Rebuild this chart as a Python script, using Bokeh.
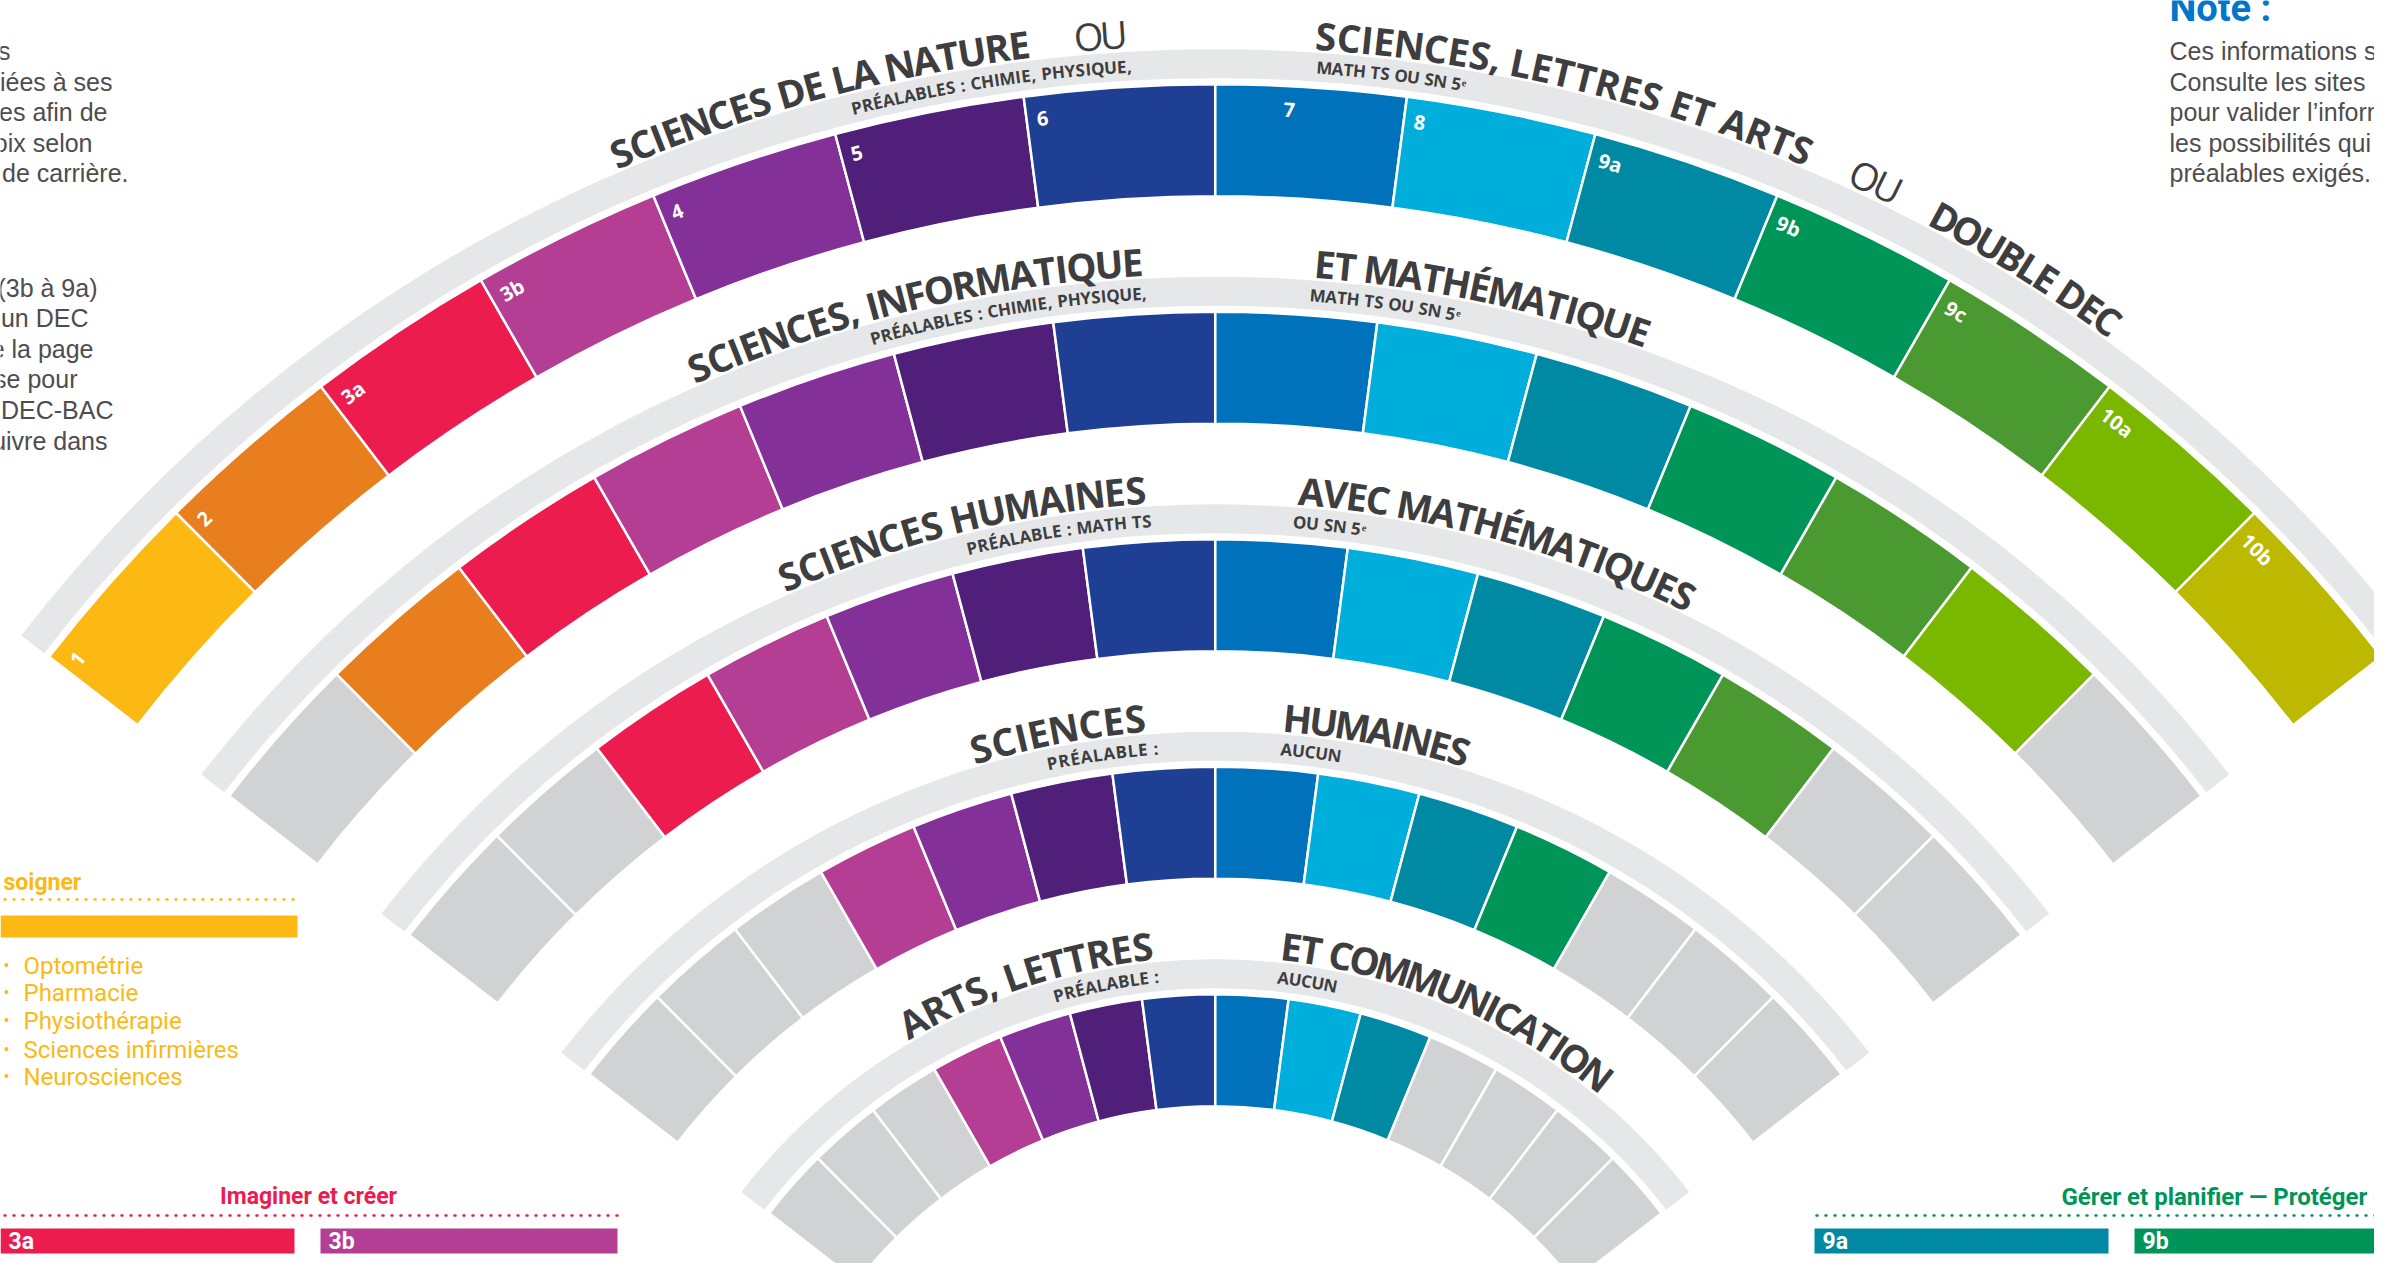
import math
from bokeh.plotting import figure
from bokeh.models import Range1d, ColumnDataSource
from bokeh.core.properties import value
from bokeh.embed import file_html
from bokeh.resources import INLINE

# ---------------- data ----------------
codes = ["1", "2", "3a", "3b", "4", "5", "6", "7", "8", "9a", "9b", "9c", "10a", "10b"]
code_colors = ["#FDB913", "#E87E1E", "#EC1C4F", "#B43E93", "#833199", "#4F1F79", "#1E3F94",
               "#0072BC", "#00AEDB", "#0089A3", "#009558", "#4A9A31", "#7AB800", "#BDB800"]
# first / last program code reachable from each DEC (outer ring -> inner ring)
ring_first = ["1", "2", "3a", "3b", "3b"]
ring_last = ["10b", "10a", "9c", "9b", "9a"]
ring_left_titles = ["SCIENCES DE LA NATURE", "SCIENCES, INFORMATIQUE", "SCIENCES HUMAINES",
                    "SCIENCES", "ARTS, LETTRES"]
ring_right_titles = ["SCIENCES, LETTRES ET ARTS", "ET MATHÉMATIQUE", "AVEC MATHÉMATIQUES",
                     "HUMAINES", "ET COMMUNICATION"]
ring_left_subs = ["PRÉALABLES : CHIMIE, PHYSIQUE,", "PRÉALABLES : CHIMIE, PHYSIQUE,",
                  "PRÉALABLE : MATH TS", "PRÉALABLE :", "PRÉALABLE :"]
ring_right_subs = ["MATH TS OU SN 5ᵉ", "MATH TS OU SN 5ᵉ", "OU SN 5ᵉ", "AUCUN", "AUCUN"]
outer_extra = ["OU", "OU", "DOUBLE DEC"]

left_par1 = ["s", "iées à ses", "es afin de", "oix selon", "de carrière."]
left_par2 = ["(3b à 9a)", "un DEC", "e la page", "se pour", "DEC-BAC", "uivre dans"]
note_title = "Note :"
note_lines = ["Ces informations so", "Consulte les sites In", "pour valider l’inform",
              "les possibilités qui s", "préalables exigés."]
care_header = "soigner"
care_code = "1"
care_items = ["Optométrie", "Pharmacie", "Physiothérapie", "Sciences infirmières", "Neurosciences"]
create_header = "Imaginer et créer"
create_codes = ["3a", "3b"]
manage_header = "Gérer et planifier  —  Protéger et"
manage_codes = ["9a", "9b"]

# ---------------- layout ----------------
W, H = 2374, 1263


def Y(ys):
    return H - ys


CX, CY = 1214.8, Y(1557.7)
A_L, A_R = 142.3, 37.7
NSEG = len(codes)
STEP = (A_L - A_R) / NSEG
R_IN0, R_STEP, SEG_W, BAND_GAP, BAND_W = 1362.0, 227.5, 112.0, 6.0, 29.0
GRAY, BAND, DARK = "#D1D2D4", "#E6E7E8", "#3E3E40"
TITLE_PX, SUB_PX, OU_PX = 38, 17, 38

p = figure(width=W, height=H, x_range=Range1d(0, W), y_range=Range1d(0, H),
           output_backend="svg", toolbar_location=None, min_border=0)
p.axis.visible = False
p.grid.visible = False
p.outline_line_color = None
p.background_fill_color = "white"

# wedges
wd = dict(x=[], y=[], ri=[], ro=[], a0=[], a1=[], c=[])
bd = dict(x=[], y=[], ri=[], ro=[], a0=[], a1=[])
for k in range(5):
    rin = R_IN0 - k * R_STEP
    i0, i1 = codes.index(ring_first[k]), codes.index(ring_last[k])
    for i in range(NSEG):
        wd["x"].append(CX); wd["y"].append(CY)
        wd["ri"].append(rin); wd["ro"].append(rin + SEG_W)
        wd["a0"].append(math.radians(A_L - STEP * (i + 1)))
        wd["a1"].append(math.radians(A_L - STEP * i))
        wd["c"].append(code_colors[i] if i0 <= i <= i1 else GRAY)
    bd["x"].append(CX); bd["y"].append(CY)
    bd["ri"].append(rin + SEG_W + BAND_GAP); bd["ro"].append(rin + SEG_W + BAND_GAP + BAND_W)
    bd["a0"].append(math.radians(A_R)); bd["a1"].append(math.radians(A_L))

p.annular_wedge(x="x", y="y", inner_radius="ri", outer_radius="ro", start_angle="a0",
                end_angle="a1", fill_color=BAND, line_color=None, source=ColumnDataSource(bd))
p.annular_wedge(x="x", y="y", inner_radius="ri", outer_radius="ro", start_angle="a0",
                end_angle="a1", fill_color="c", line_color="white", line_width=2.5,
                source=ColumnDataSource(wd))

# character widths (em) for placing letters along arcs
CW = {'A': .70, 'B': .68, 'C': .64, 'D': .73, 'E': .57, 'F': .55, 'G': .72, 'H': .76, 'I': .33,
      'J': .33, 'K': .67, 'L': .56, 'M': .93, 'N': .78, 'O': .78, 'P': .65, 'Q': .78, 'R': .67,
      'S': .58, 'T': .59, 'U': .75, 'V': .65, 'W': .97, 'X': .65, 'Y': .62, 'Z': .58, 'É': .57,
      ' ': .26, ',': .28, ':': .28, '.': .28, '5': .57, 'ᵉ': .35}


def arc_chars(s, r, a0, a1, track=0.0):
    ws = [CW.get(c, .55) + track for c in s]
    tot = sum(ws)
    out = dict(x=[], y=[], t=[], a=[])
    cum = 0.0
    for c, w in zip(s, ws):
        f = (cum + w / 2) / tot
        cum += w
        if c == " ":
            continue
        th = math.radians(a0 + (a1 - a0) * f)
        out["x"].append(CX + r * math.cos(th))
        out["y"].append(CY + r * math.sin(th))
        out["t"].append(c)
        out["a"].append(th - math.pi / 2)
    return out


def merge(dst, src):
    for key in dst:
        dst[key] += src[key]


title_spans_l = [(113.3, 97.0), (113.9, 93.2), (114.0, 93.7), (106.9, 94.7), (120.6, 95.8)]
title_spans_r = [(86.25, 67.0), (85.6, 70.5), (85.5, 63.5), (85.3, 72.5), (83.8, 50.5)]
sub_spans_l = [(104.1, 93.2), (105.8, 93.1), (103.85, 93.5), (102.0, 94.0), (106.1, 95.5)]
sub_spans_r = [(86.1, 80.3), (85.7, 78.8), (85.7, 81.6), (85.4, 81.1), (83.9, 78.0)]

tb = dict(x=[], y=[], t=[], a=[])
sb = dict(x=[], y=[], t=[], a=[])
for k in range(5):
    rin = R_IN0 - k * R_STEP
    band_out = rin + SEG_W + BAND_GAP + BAND_W
    r_title = band_out + 4 + 0.36 * TITLE_PX          # centre of capitals
    r_sub = rin + SEG_W + BAND_GAP + BAND_W / 2        # centre of band
    merge(tb, arc_chars(ring_left_titles[k], r_title, *title_spans_l[k]))
    merge(tb, arc_chars(ring_right_titles[k], r_title, *title_spans_r[k]))
    merge(sb, arc_chars(ring_left_subs[k], r_sub, *sub_spans_l[k], track=0.06))
    merge(sb, arc_chars(ring_right_subs[k], r_sub, *sub_spans_r[k], track=0.06))

band_out0 = R_IN0 + SEG_W + BAND_GAP + BAND_W
merge(tb, arc_chars(outer_extra[2], band_out0 + 4 + 0.36 * TITLE_PX, 61.9, 53.8))
ob = dict(x=[], y=[], t=[], a=[])
r_ou = band_out0 + 5 + 0.36 * OU_PX
merge(ob, arc_chars(outer_extra[0], r_ou, 95.25, 93.35))
merge(ob, arc_chars(outer_extra[1], r_ou, 65.3, 63.4))

p.text(x="x", y="y", text="t", angle="a", source=ColumnDataSource(tb),
       text_font=value("Open Sans"), text_font_style="bold", text_font_size=f"{TITLE_PX}px",
       text_color=DARK, text_align="center", text_baseline="middle")
p.text(x="x", y="y", text="t", angle="a", source=ColumnDataSource(ob),
       text_font=value("Open Sans"), text_font_style="normal", text_font_size=f"{OU_PX}px",
       text_color=DARK, text_align="center", text_baseline="middle")
p.text(x="x", y="y", text="t", angle="a", source=ColumnDataSource(sb),
       text_font=value("Open Sans"), text_font_style="bold", text_font_size=f"{SUB_PX}px",
       text_color=DARK, text_align="center", text_baseline="middle")

# segment numbers on the outer ring
lb = dict(x=[], y=[], t=[], a=[])
r_lab = R_IN0 + SEG_W - 24
for i, c in enumerate(codes):
    off = 2.7 if c == "7" else 0.4
    th = math.radians(A_L - STEP * i - off)
    lb["x"].append(CX + r_lab * math.cos(th))
    lb["y"].append(CY + r_lab * math.sin(th))
    lb["t"].append(c)
    lb["a"].append(th - math.pi / 2)
p.text(x="x", y="y", text="t", angle="a", source=ColumnDataSource(lb),
       text_font=value("Open Sans"), text_font_style="bold", text_font_size="20px",
       text_color="white", text_align="left", text_baseline="middle")

# ---------------- side texts ----------------
BODY = "#4D4D4F"
par1_end = [10, 112, 107, 92, 128]
par1_y = [50, 81, 111, 142, 172]
par2_end = [97, 88, 93, 77, 113, 107]
par2_y = [287, 317, 348, 378, 409, 440]
p.text(x=par1_end + par2_end, y=[Y(v) for v in par1_y + par2_y], text=left_par1 + left_par2,
       text_font=value("Liberation Sans"), text_font_size="25px", text_color=BODY,
       text_align="right", text_baseline="middle")

p.text(x=[2169], y=[Y(7)], text=[note_title], text_font=value("Roboto"),
       text_font_style="bold", text_font_size="38px", text_color="#0077C8",
       text_align="left", text_baseline="middle")
p.text(x=[2169] * len(note_lines), y=[Y(v) for v in [50, 81, 111, 142, 172]], text=note_lines,
       text_font=value("Liberation Sans"), text_font_size="25px", text_color=BODY,
       text_align="left", text_baseline="middle")

# ---------------- legends ----------------
col = dict(zip(codes, code_colors))
care_c = col[care_code]
p.text(x=[3], y=[Y(882)], text=[care_header], text_font=value("Roboto"), text_font_style="bold",
       text_font_size="23px", text_color=care_c, text_align="left", text_baseline="middle")
p.line(x=[4, 297], y=[Y(899)] * 2, line_color=care_c, line_width=2.5, line_dash="1 8",
       line_cap="round")
p.quad(left=[0], right=[297], top=[Y(915)], bottom=[Y(937)], fill_color=care_c, line_color=None)
item_y = [965, 992, 1020, 1049, 1076]
p.text(x=[6] * len(care_items), y=[Y(v) for v in item_y], text=["•"] * len(care_items),
       text_font=value("Roboto"), text_font_size="18px", text_color=care_c,
       text_align="center", text_baseline="middle")
p.text(x=[23] * len(care_items), y=[Y(v) for v in item_y], text=care_items,
       text_font=value("Roboto"), text_font_size="24px", text_color=care_c,
       text_align="left", text_baseline="middle")

# Imaginer et créer
p.text(x=[308], y=[Y(1196)], text=[create_header], text_font=value("Roboto"),
       text_font_style="bold", text_font_size="23px", text_color=col["3a"],
       text_align="center", text_baseline="middle")
p.line(x=[4, 617], y=[Y(1215)] * 2, line_color=col["3a"], line_width=2.5, line_dash="1 8",
       line_cap="round")
bar_l = [0, 320]
bar_r = [294, 617]
p.quad(left=bar_l, right=bar_r, top=[Y(1228)] * 2, bottom=[Y(1253)] * 2,
       fill_color=[col[c] for c in create_codes], line_color=None)
p.text(x=[v + 8 for v in bar_l], y=[Y(1241)] * 2, text=create_codes, text_font=value("Roboto"),
       text_font_style="bold", text_font_size="23px", text_color="white", text_align="left",
       text_baseline="middle")

# Gérer et planifier
p.text(x=[2061], y=[Y(1196)], text=[manage_header], text_font=value("Roboto"),
       text_font_style="bold", text_font_size="24px", text_color=col["9b"],
       text_align="left", text_baseline="middle")
p.line(x=[1816, 2390], y=[Y(1215)] * 2, line_color=col["9b"], line_width=2.5, line_dash="1 8",
       line_cap="round")
bar_l2 = [1814, 2134]
bar_r2 = [2108, 2400]
p.quad(left=bar_l2, right=bar_r2, top=[Y(1228)] * 2, bottom=[Y(1253)] * 2,
       fill_color=[col[c] for c in manage_codes], line_color=None)
p.text(x=[v + 8 for v in bar_l2], y=[Y(1241)] * 2, text=manage_codes, text_font=value("Roboto"),
       text_font_style="bold", text_font_size="23px", text_color="white", text_align="left",
       text_baseline="middle")

open("out.html", "w").write(file_html(p, INLINE))
